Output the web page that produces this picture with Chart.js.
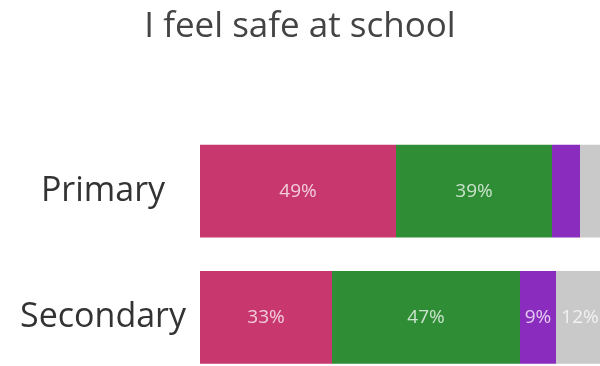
<!DOCTYPE html>
<html>
<head>
<meta charset="utf-8">
<script src="https://cdn.jsdelivr.net/npm/chart.js@4/dist/chart.umd.min.js"></script>
<style>
  html, body { margin: 0; padding: 0; background: #fff; overflow: hidden; }
</style>
</head>
<body>
<canvas id="chart" width="600" height="407"></canvas>
<script>
const categories = ['Primary', 'Secondary'];
const seriesNames = ['Strongly agree', 'Agree', 'Disagree', 'Strongly disagree'];
const stronglyAgree = [49, 33];
const agree = [39, 47];
const disagree = [7, 9];
const stronglyDisagree = [5, 12];

const colors = ['#c8386e', '#2f8d35', '#8a2dbf', '#c9c9c9'];
const FONT = '"Open Sans", "Noto Sans", sans-serif';

// percentage text inside each segment, skipped when the segment is too thin
const segmentLabels = {
  id: 'segmentLabels',
  afterDatasetsDraw(chart) {
    const ctx = chart.ctx;
    ctx.save();
    ctx.font = '19px ' + FONT;
    ctx.fillStyle = 'rgba(255,255,255,0.75)';
    ctx.textAlign = 'center';
    ctx.textBaseline = 'middle';
    chart.data.datasets.forEach((ds, i) => {
      const meta = chart.getDatasetMeta(i);
      meta.data.forEach((bar, j) => {
        const v = ds.data[j];
        if (v < 8) return;
        const p = bar.getProps(['x', 'y', 'base'], true);
        ctx.fillText(v + '%', (p.x + p.base) / 2, p.y);
      });
    });
    ctx.restore();
  }
};

const datasets = [stronglyAgree, agree, disagree, stronglyDisagree].map((data, i) => ({
  label: seriesNames[i],
  data: data,
  backgroundColor: colors[i],
  borderWidth: 0,
  barPercentage: 0.735,
  categoryPercentage: 1
}));

new Chart(document.getElementById('chart'), {
  type: 'bar',
  data: { labels: categories, datasets: datasets },
  plugins: [segmentLabels],
  options: {
    indexAxis: 'y',
    responsive: false,
    animation: false,
    layout: { padding: 0 },
    scales: {
      x: {
        stacked: true,
        min: 0,
        max: 100,
        display: false
      },
      y: {
        stacked: true,
        grid: { display: false },
        border: { display: false },
        ticks: {
          color: '#333',
          padding: 6,
          crossAlign: 'center',
          font: { family: FONT, size: 34 }
        },
        afterFit(scale) { scale.width = 200; }
      }
    },
    plugins: {
      legend: { display: false },
      tooltip: { enabled: false },
      title: {
        display: true,
        text: 'I feel safe at school',
        color: '#444',
        font: { family: FONT, size: 35, weight: 'normal', lineHeight: 1.2 },
        padding: { top: 6, bottom: 80 }
      }
    }
  }
});
</script>
</body>
</html>
